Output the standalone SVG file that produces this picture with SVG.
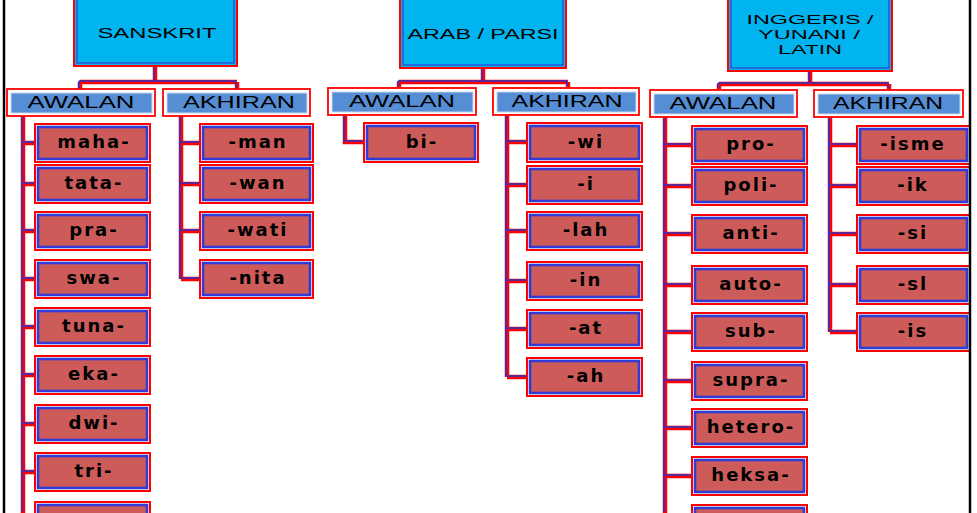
<svg xmlns="http://www.w3.org/2000/svg" xmlns:xlink="http://www.w3.org/1999/xlink" width="977" height="513" viewBox="0 0 977 513">
<style>
.hdr-o{fill:#00B4F0;stroke:#FF0000;stroke-width:2}
.hdr-i{fill:none;stroke:#3A3AD0;stroke-width:1.2}
.hdr-t{font-family:"Liberation Sans",Arial,sans-serif;font-size:15px;fill:#000;text-anchor:middle}
.hdr-s{font-size:12.5px}
.lbl-o{fill:#FFFFFF;stroke:#FF0000;stroke-width:1.8}
.lbl-i{fill:#558ED5;stroke:#C8D8F0;stroke-width:1}
.lbl-t{font-family:"Liberation Sans",Arial,sans-serif;font-size:16px;fill:#000;text-anchor:middle}
.c-o{fill:none;stroke:#FF0000;stroke-width:2}
.c-i{fill:#CD5B5A;stroke:#2F3BD6;stroke-width:2.6}
.c-t{font-family:"DejaVu Sans",Verdana,sans-serif;font-size:18px;font-weight:bold;letter-spacing:2px;fill:#000;text-anchor:middle}
</style>
<defs>
<path id="conn" fill="none" d="M155,67 V82 M80,82 H237 M80,82 V89 M237,82 V89
M23,116 V513 M23,143 H35 M23,184 H35 M23,231 H35 M23,279 H35 M23,327 H35 M23,375 H35 M23,424 H35 M23,472 H35
M181,116 V279 M181,143 H200 M181,184 H200 M181,231 H200 M181,279 H200
M483,69 V82 M399,82 H568 M399,82 V87 M568,82 V87
M345,116 V142 H364
M507,116 V377 M507,142 H527 M507,185 H527 M507,231 H527 M507,281 H527 M507,329 H527 M507,377 H527
M810,72 V84 M719,84 H889 M719,84 V89 M889,84 V89
M665,117 V513 M665,145 H692 M665,186 H692 M665,234 H692 M665,285 H692 M665,332 H692 M665,381 H692 M665,428 H692 M665,476 H692
M830,117 V332 M830,145 H857 M830,186 H857 M830,234 H857 M830,285 H857 M830,332 H857"/>
</defs>
<rect x="0" y="0" width="977" height="513" fill="#FFFFFF"/>
<line x1="4" y1="0" x2="4" y2="513" stroke="#000" stroke-width="2.5"/>

<g id="connectors">
<use xlink:href="#conn" href="#conn" stroke="#FF0000" stroke-width="4.5"/>
<use xlink:href="#conn" href="#conn" stroke="#3030C8" stroke-width="1.6" transform="translate(-1,-1)"/>
</g>

<!-- Headers -->
<g id="sanskrit">
<rect class="hdr-o" x="74" y="-4" width="163" height="70"/>
<rect class="hdr-i" x="77" y="-4" width="157" height="67"/>
<text class="hdr-t" x="157" y="38" textLength="119" lengthAdjust="spacingAndGlyphs">SANSKRIT</text>
</g>
<g id="arab">
<rect class="hdr-o" x="400" y="-4" width="166" height="72"/>
<rect class="hdr-i" x="403" y="-4" width="160" height="69"/>
<text class="hdr-t" x="483" y="39" textLength="151" lengthAdjust="spacingAndGlyphs">ARAB / PARSI</text>
</g>
<g id="inggeris">
<rect class="hdr-o" x="728" y="-4" width="164" height="75"/>
<rect class="hdr-i" x="731" y="-4" width="158" height="72"/>
<text class="hdr-t hdr-s" x="810" y="24" textLength="127" lengthAdjust="spacingAndGlyphs">INGGERIS /</text>
<text class="hdr-t hdr-s" x="809" y="39" textLength="102" lengthAdjust="spacingAndGlyphs">YUNANI /</text>
<text class="hdr-t hdr-s" x="810" y="54" textLength="64" lengthAdjust="spacingAndGlyphs">LATIN</text>
</g>

<!-- Labels -->
<g id="s-awalan">
<rect class="lbl-o" x="7" y="89" width="148" height="27"/>
<rect class="lbl-i" x="11" y="93" width="141" height="20"/>
<text class="lbl-t" x="81" y="108" textLength="107" lengthAdjust="spacingAndGlyphs">AWALAN</text>
</g>
<g id="s-akhiran">
<rect class="lbl-o" x="163" y="89" width="147" height="27"/>
<rect class="lbl-i" x="167" y="93" width="140" height="20"/>
<text class="lbl-t" x="239" y="108" textLength="112" lengthAdjust="spacingAndGlyphs">AKHIRAN</text>
</g>
<g id="a-awalan">
<rect class="lbl-o" x="328" y="88" width="148" height="27"/>
<rect class="lbl-i" x="332" y="92" width="141" height="20"/>
<text class="lbl-t" x="402" y="107" textLength="106" lengthAdjust="spacingAndGlyphs">AWALAN</text>
</g>
<g id="a-akhiran">
<rect class="lbl-o" x="493" y="88" width="146" height="27"/>
<rect class="lbl-i" x="497" y="92" width="139" height="20"/>
<text class="lbl-t" x="567" y="107" textLength="111" lengthAdjust="spacingAndGlyphs">AKHIRAN</text>
</g>
<g id="i-awalan">
<rect class="lbl-o" x="650" y="90" width="147" height="27"/>
<rect class="lbl-i" x="654" y="94" width="140" height="20"/>
<text class="lbl-t" x="723" y="109" textLength="107" lengthAdjust="spacingAndGlyphs">AWALAN</text>
</g>
<g id="i-akhiran">
<rect class="lbl-o" x="814" y="90" width="149" height="27"/>
<rect class="lbl-i" x="818" y="94" width="142" height="20"/>
<text class="lbl-t" x="888" y="109" textLength="110" lengthAdjust="spacingAndGlyphs">AKHIRAN</text>
</g>

<!-- Sanskrit awalan children -->
<g id="s-maha"><rect class="c-o" x="35" y="124" width="115" height="38"/><rect class="c-i" x="38" y="127" width="109" height="32"/><text class="c-t" x="94" y="148">maha-</text></g>
<g id="s-tata"><rect class="c-o" x="35" y="165" width="115" height="38"/><rect class="c-i" x="38" y="168" width="109" height="32"/><text class="c-t" x="94" y="189">tata-</text></g>
<g id="s-pra"><rect class="c-o" x="35" y="212" width="115" height="38"/><rect class="c-i" x="38" y="215" width="109" height="32"/><text class="c-t" x="94" y="236">pra-</text></g>
<g id="s-swa"><rect class="c-o" x="35" y="260" width="115" height="38"/><rect class="c-i" x="38" y="263" width="109" height="32"/><text class="c-t" x="94" y="284">swa-</text></g>
<g id="s-tuna"><rect class="c-o" x="35" y="308" width="115" height="38"/><rect class="c-i" x="38" y="311" width="109" height="32"/><text class="c-t" x="94" y="332">tuna-</text></g>
<g id="s-eka"><rect class="c-o" x="35" y="356" width="115" height="38"/><rect class="c-i" x="38" y="359" width="109" height="32"/><text class="c-t" x="94" y="380">eka-</text></g>
<g id="s-dwi"><rect class="c-o" x="35" y="405" width="115" height="38"/><rect class="c-i" x="38" y="408" width="109" height="32"/><text class="c-t" x="94" y="429">dwi-</text></g>
<g id="s-tri"><rect class="c-o" x="35" y="453" width="115" height="38"/><rect class="c-i" x="38" y="456" width="109" height="32"/><text class="c-t" x="94" y="477">tri-</text></g>
<g id="s-next"><rect class="c-o" x="35" y="502" width="115" height="38"/><rect class="c-i" x="38" y="505" width="109" height="32"/></g>

<!-- Sanskrit akhiran children -->
<g id="s-man"><rect class="c-o" x="200" y="124" width="113" height="38"/><rect class="c-i" x="203" y="127" width="107" height="32"/><text class="c-t" x="258" y="148">-man</text></g>
<g id="s-wan"><rect class="c-o" x="200" y="165" width="113" height="38"/><rect class="c-i" x="203" y="168" width="107" height="32"/><text class="c-t" x="258" y="189">-wan</text></g>
<g id="s-wati"><rect class="c-o" x="200" y="212" width="113" height="38"/><rect class="c-i" x="203" y="215" width="107" height="32"/><text class="c-t" x="258" y="236">-wati</text></g>
<g id="s-nita"><rect class="c-o" x="200" y="260" width="113" height="38"/><rect class="c-i" x="203" y="263" width="107" height="32"/><text class="c-t" x="258" y="284">-nita</text></g>

<!-- Arab children -->
<g id="a-bi"><rect class="c-o" x="364" y="123" width="114" height="39"/><rect class="c-i" x="367" y="126" width="108" height="33"/><text class="c-t" x="422" y="148">bi-</text></g>
<g id="a-wi"><rect class="c-o" x="527" y="123" width="115" height="39"/><rect class="c-i" x="530" y="126" width="109" height="33"/><text class="c-t" x="586" y="148">-wi</text></g>
<g id="a-i"><rect class="c-o" x="527" y="166" width="115" height="38"/><rect class="c-i" x="530" y="169" width="109" height="32"/><text class="c-t" x="586" y="190">-i</text></g>
<g id="a-lah"><rect class="c-o" x="527" y="212" width="115" height="38"/><rect class="c-i" x="530" y="215" width="109" height="32"/><text class="c-t" x="586" y="236">-lah</text></g>
<g id="a-in"><rect class="c-o" x="527" y="262" width="115" height="38"/><rect class="c-i" x="530" y="265" width="109" height="32"/><text class="c-t" x="586" y="286">-in</text></g>
<g id="a-at"><rect class="c-o" x="527" y="310" width="115" height="38"/><rect class="c-i" x="530" y="313" width="109" height="32"/><text class="c-t" x="586" y="334">-at</text></g>
<g id="a-ah"><rect class="c-o" x="527" y="358" width="115" height="38"/><rect class="c-i" x="530" y="361" width="109" height="32"/><text class="c-t" x="586" y="382">-ah</text></g>

<!-- Inggeris awalan children -->
<g id="i-pro"><rect class="c-o" x="692" y="126" width="115" height="38"/><rect class="c-i" x="695" y="129" width="109" height="32"/><text class="c-t" x="751" y="150">pro-</text></g>
<g id="i-poli"><rect class="c-o" x="692" y="167" width="115" height="38"/><rect class="c-i" x="695" y="170" width="109" height="32"/><text class="c-t" x="751" y="191">poli-</text></g>
<g id="i-anti"><rect class="c-o" x="692" y="215" width="115" height="38"/><rect class="c-i" x="695" y="218" width="109" height="32"/><text class="c-t" x="751" y="239">anti-</text></g>
<g id="i-auto"><rect class="c-o" x="692" y="266" width="115" height="38"/><rect class="c-i" x="695" y="269" width="109" height="32"/><text class="c-t" x="751" y="290">auto-</text></g>
<g id="i-sub"><rect class="c-o" x="692" y="313" width="115" height="38"/><rect class="c-i" x="695" y="316" width="109" height="32"/><text class="c-t" x="751" y="337">sub-</text></g>
<g id="i-supra"><rect class="c-o" x="692" y="362" width="115" height="38"/><rect class="c-i" x="695" y="365" width="109" height="32"/><text class="c-t" x="751" y="386">supra-</text></g>
<g id="i-hetero"><rect class="c-o" x="692" y="409" width="115" height="38"/><rect class="c-i" x="695" y="412" width="109" height="32"/><text class="c-t" x="751" y="433">hetero-</text></g>
<g id="i-heksa"><rect class="c-o" x="692" y="457" width="115" height="38"/><rect class="c-i" x="695" y="460" width="109" height="32"/><text class="c-t" x="751" y="481">heksa-</text></g>
<g id="i-next"><rect class="c-o" x="692" y="505" width="115" height="38"/><rect class="c-i" x="695" y="508" width="109" height="32"/></g>

<!-- Inggeris akhiran children -->
<g id="i-isme"><rect class="c-o" x="857" y="126" width="113" height="38"/><rect class="c-i" x="860" y="129" width="107" height="32"/><text class="c-t" x="913" y="150">-isme</text></g>
<g id="i-ik"><rect class="c-o" x="857" y="167" width="113" height="38"/><rect class="c-i" x="860" y="170" width="107" height="32"/><text class="c-t" x="913" y="191">-ik</text></g>
<g id="i-si"><rect class="c-o" x="857" y="215" width="113" height="38"/><rect class="c-i" x="860" y="218" width="107" height="32"/><text class="c-t" x="913" y="239">-si</text></g>
<g id="i-sl"><rect class="c-o" x="857" y="266" width="113" height="38"/><rect class="c-i" x="860" y="269" width="107" height="32"/><text class="c-t" x="913" y="290">-sl</text></g>
<g id="i-is"><rect class="c-o" x="857" y="313" width="113" height="38"/><rect class="c-i" x="860" y="316" width="107" height="32"/><text class="c-t" x="913" y="337">-is</text></g>

<line x1="970" y1="0" x2="970" y2="513" stroke="#000" stroke-width="2.5"/>
</svg>
